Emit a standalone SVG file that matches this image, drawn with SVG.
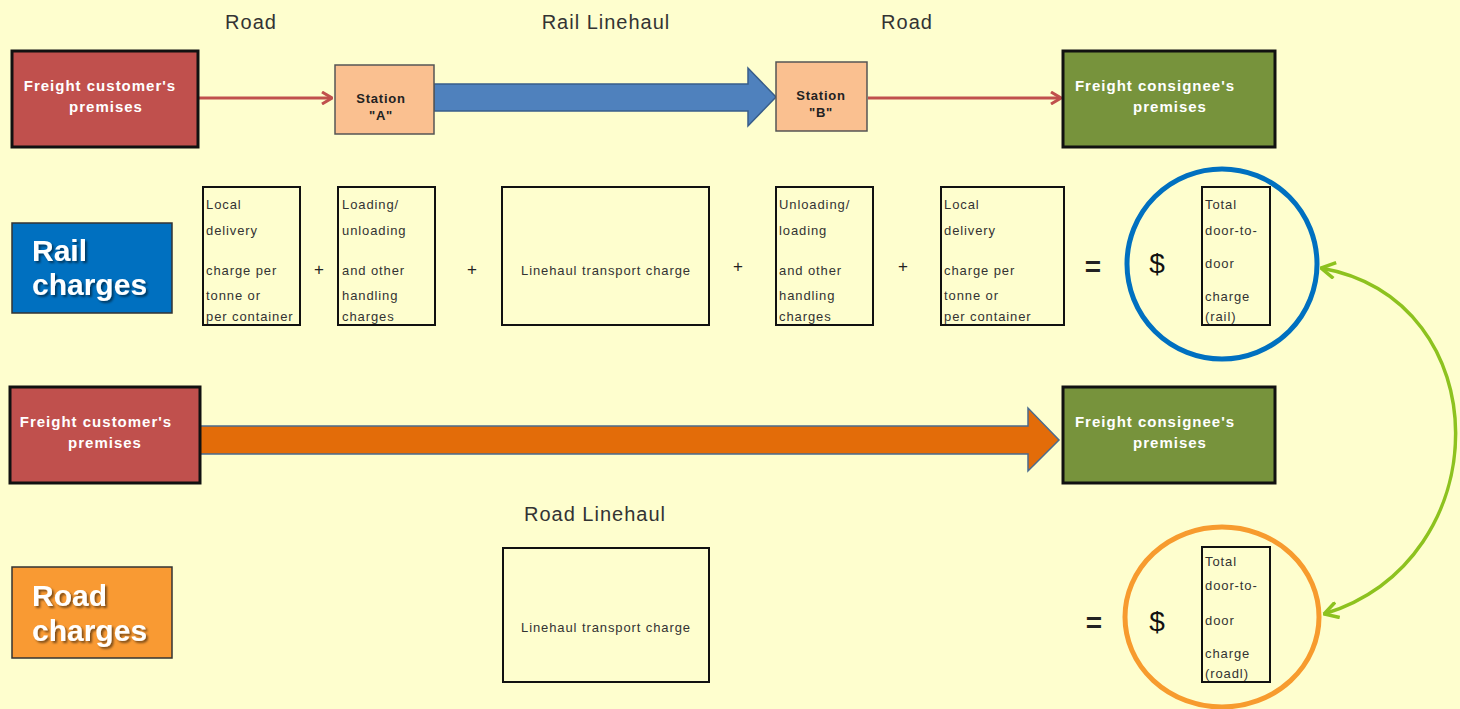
<svg xmlns="http://www.w3.org/2000/svg" width="1460" height="709" viewBox="0 0 1460 709">
<defs>
<style>
text{font-family:"Liberation Sans",Arial,sans-serif;}
.lbl{font-size:20px;fill:#333;text-anchor:middle;letter-spacing:1px;}
.prem{font-size:15px;font-weight:bold;fill:#fff;text-anchor:middle;letter-spacing:1px;}
.stn{font-size:13px;font-weight:bold;fill:#222;text-anchor:middle;letter-spacing:0.8px;}
.big{font-size:30px;font-weight:bold;fill:#fff;}
.sm{font-size:13px;fill:#333;letter-spacing:0.9px;}
.op{font-size:17px;fill:#222;text-anchor:middle;}
.eq{font-size:28px;fill:#222;text-anchor:middle;font-weight:bold;}
.dol{font-size:28px;fill:#111;text-anchor:middle;}
.cbox{fill:none;stroke:#111;stroke-width:2;}
.red{fill:#C0504D;stroke:#111;stroke-width:3;}
.grn{fill:#77933C;stroke:#111;stroke-width:3;}
.st{fill:#FAC090;stroke:#555;stroke-width:1.5;}
.rline{stroke:#C0504D;stroke-width:3;fill:none;}
</style>
<marker id="redHead" viewBox="0 0 12 14" refX="11" refY="7" markerWidth="12" markerHeight="14" markerUnits="userSpaceOnUse" orient="auto">
<path d="M1,1 L11,7 L1,13" fill="none" stroke="#C0504D" stroke-width="3"/>
</marker>
<marker id="grnHead" viewBox="0 0 16 18" refX="15" refY="9" markerWidth="16" markerHeight="18" markerUnits="userSpaceOnUse" orient="auto-start-reverse">
<path d="M1,1 L15,9 L1,17" fill="none" stroke="#8DC21F" stroke-width="3.5"/>
</marker>
<filter id="sh" x="-10%" y="-10%" width="130%" height="140%">
<feDropShadow dx="2" dy="2" stdDeviation="1.2" flood-color="#000" flood-opacity="0.5"/>
</filter>
</defs>
<rect width="1460" height="709" fill="#FEFECE"/>

<g id="labels">
<text class="lbl" x="251" y="29">Road</text>
<text class="lbl" x="606" y="29">Rail Linehaul</text>
<text class="lbl" x="907" y="29">Road</text>
<text class="lbl" x="595" y="521">Road Linehaul</text>
</g>

<g id="connectors">
<line class="rline" x1="199" y1="98" x2="332" y2="98" marker-end="url(#redHead)"/>
<line class="rline" x1="868" y1="98" x2="1061" y2="98" marker-end="url(#redHead)"/>
<path d="M434,84 L748,84 L748,68 L776,97 L748,126 L748,111 L434,111 Z" fill="#4F81BD" stroke="#385D8A" stroke-width="1.5"/>
<path d="M200,426 L1028,426 L1028,408 L1059,440 L1028,471 L1028,454 L200,454 Z" fill="#E36C09" stroke="#4A6B8F" stroke-width="1.5"/>
<path d="M1321,268 C1500,300 1500,560 1324,614" fill="none" stroke="#8DC21F" stroke-width="3.5" marker-start="url(#grnHead)" marker-end="url(#grnHead)"/>
</g>

<g id="customer1">
<rect class="red" x="12" y="51" width="186" height="96"/>
<text class="prem" x="100" y="91">Freight customer's</text>
<text class="prem" x="106" y="112">premises</text>
</g>
<g id="stationA">
<rect class="st" x="335" y="65" width="99" height="69"/>
<text class="stn" x="381" y="103">Station</text>
<text class="stn" x="381" y="120">"A"</text>
</g>
<g id="stationB">
<rect class="st" x="776" y="62" width="91" height="69"/>
<text class="stn" x="821" y="100">Station</text>
<text class="stn" x="821" y="117">"B"</text>
</g>
<g id="consignee1">
<rect class="grn" x="1063" y="51" width="212" height="96"/>
<text class="prem" x="1155" y="91">Freight consignee's</text>
<text class="prem" x="1170" y="112">premises</text>
</g>

<g id="railCharges">
<rect x="12" y="223" width="160" height="90" fill="#0070C0" stroke="#333" stroke-width="1.5"/>
<text class="big" x="32" y="261" filter="url(#sh)">Rail</text>
<text class="big" x="32" y="295" filter="url(#sh)">charges</text>
</g>

<g id="box1">
<rect class="cbox" x="203" y="187" width="97" height="138"/>
<text class="sm" x="206" y="209">Local</text>
<text class="sm" x="206" y="235">delivery</text>
<text class="sm" x="206" y="275">charge per</text>
<text class="sm" x="206" y="300">tonne or</text>
<text class="sm" x="206" y="321">per container</text>
</g>
<text class="op" x="319" y="275">+</text>
<g id="box2">
<rect class="cbox" x="338" y="187" width="97" height="138"/>
<text class="sm" x="342" y="209">Loading/</text>
<text class="sm" x="342" y="235">unloading</text>
<text class="sm" x="342" y="275">and other</text>
<text class="sm" x="342" y="300">handling</text>
<text class="sm" x="342" y="321">charges</text>
</g>
<text class="op" x="472" y="275">+</text>
<g id="box3">
<rect class="cbox" x="502" y="187" width="207" height="138"/>
<text class="sm" x="606" y="275" text-anchor="middle">Linehaul transport charge</text>
</g>
<text class="op" x="738" y="272">+</text>
<g id="box4">
<rect class="cbox" x="776" y="187" width="97" height="138"/>
<text class="sm" x="779" y="209">Unloading/</text>
<text class="sm" x="779" y="235">loading</text>
<text class="sm" x="779" y="275">and other</text>
<text class="sm" x="779" y="300">handling</text>
<text class="sm" x="779" y="321">charges</text>
</g>
<text class="op" x="903" y="272">+</text>
<g id="box5">
<rect class="cbox" x="941" y="187" width="123" height="138"/>
<text class="sm" x="944" y="209">Local</text>
<text class="sm" x="944" y="235">delivery</text>
<text class="sm" x="944" y="275">charge per</text>
<text class="sm" x="944" y="300">tonne or</text>
<text class="sm" x="944" y="321">per container</text>
</g>
<text class="eq" x="1093" y="276">=</text>

<g id="railTotal">
<circle cx="1222" cy="264" r="95" fill="none" stroke="#0070C0" stroke-width="5"/>
<text class="dol" x="1157" y="273">$</text>
<rect class="cbox" x="1202" y="187" width="68" height="138"/>
<text class="sm" x="1205" y="209">Total</text>
<text class="sm" x="1205" y="235">door-to-</text>
<text class="sm" x="1205" y="268">door</text>
<text class="sm" x="1205" y="301">charge</text>
<text class="sm" x="1205" y="321">(rail)</text>
</g>

<g id="customer2">
<rect class="red" x="10" y="387" width="190" height="96"/>
<text class="prem" x="96" y="427">Freight customer's</text>
<text class="prem" x="105" y="448">premises</text>
</g>
<g id="consignee2">
<rect class="grn" x="1063" y="387" width="212" height="96"/>
<text class="prem" x="1155" y="427">Freight consignee's</text>
<text class="prem" x="1170" y="448">premises</text>
</g>

<g id="box6">
<rect class="cbox" x="503" y="548" width="206" height="134"/>
<text class="sm" x="606" y="632" text-anchor="middle">Linehaul transport charge</text>
</g>

<g id="roadCharges">
<rect x="12" y="567" width="160" height="91" fill="#F99A33" stroke="#333" stroke-width="1.5"/>
<text class="big" x="32" y="606" filter="url(#sh)">Road</text>
<text class="big" x="32" y="641" filter="url(#sh)">charges</text>
</g>

<text class="eq" x="1094" y="632">=</text>
<g id="roadTotal">
<ellipse cx="1222" cy="617" rx="97" ry="90" fill="none" stroke="#F79B2E" stroke-width="5"/>
<text class="dol" x="1157" y="631">$</text>
<rect class="cbox" x="1202" y="547" width="68" height="135"/>
<text class="sm" x="1205" y="566">Total</text>
<text class="sm" x="1205" y="590">door-to-</text>
<text class="sm" x="1205" y="625">door</text>
<text class="sm" x="1205" y="658">charge</text>
<text class="sm" x="1205" y="678">(roadl)</text>
</g>
</svg>
